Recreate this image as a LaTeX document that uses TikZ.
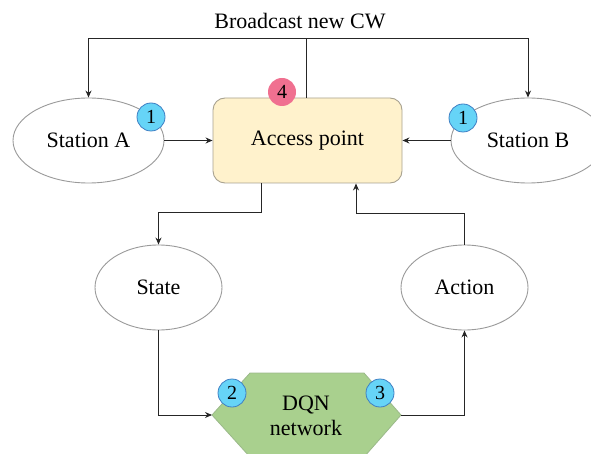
\documentclass[tikz,border=0pt]{standalone}
\usepackage{fontspec}
\setmainfont{Liberation Serif}
\usetikzlibrary{shapes.geometric,arrows.meta}
\definecolor{apfill}{HTML}{FFF2CC}
\definecolor{apdraw}{HTML}{A8A290}
\definecolor{hexfill}{HTML}{A9D08E}
\definecolor{hexdraw}{HTML}{9BB98A}
\definecolor{badgeblue}{HTML}{66D4F7}
\definecolor{badgeborder}{HTML}{3F7FC4}
\definecolor{badgepink}{HTML}{F07090}
\definecolor{ellgray}{HTML}{9A9A9A}
\tikzset{
  lbl/.style={font=\fontsize{22}{25}\selectfont},
  ell/.style={ellipse, draw=ellgray, line width=0.9pt, fill=white, inner sep=0pt, lbl},
  apbox/.style={rectangle, rounded corners=12pt, draw=apdraw, line width=0.9pt, fill=apfill, inner sep=0pt, minimum width=189pt, minimum height=85pt, lbl},
  badge/.style={circle, draw=badgeborder, line width=0.8pt, fill=badgeblue, minimum size=28pt, inner sep=0pt, font=\fontsize{20}{22}\selectfont},
  pbadge/.style={circle, fill=badgepink, minimum size=28pt, inner sep=0pt, font=\fontsize{20}{22}\selectfont},
  conn/.style={draw=black!85, line width=1pt},
  arr/.style={conn, -{Stealth[length=7pt,width=6pt]}},
}
\begin{document}
\begin{tikzpicture}[x=1pt,y=-1pt]
\useasboundingbox (0,0) rectangle (591,454);
\clip (0,0) rectangle (591,454);
% nodes
\node[apbox] (ap) at (307.5,140.5) {Access point};
\node[ell, minimum width=151pt, minimum height=85pt] (sa) at (88.5,140.5) {Station A};
\node[ell, minimum width=154pt, minimum height=85pt] (sb) at (528,140.5) {Station B};
\node[ell, minimum width=127pt, minimum height=85pt] (state) at (158.5,287.5) {State};
\node[ell, minimum width=127pt, minimum height=85pt] (action) at (464.5,287.5) {Action};
\node[lbl] (title) at (300,21) {Broadcast new CW};
% DQN hexagon
\coordinate (dqnL) at (212,415);
\coordinate (dqnR) at (401,415);
\fill[hexfill, draw=hexdraw, line width=0.8pt] (dqnL) -- (250,373) -- (364,373) -- (dqnR) -- (364,457) -- (250,457) -- cycle;
\node[lbl, align=center, inner sep=0pt] (dqn) at (306,416) {DQN\\[0pt]network};
% badges
\node[badge] (b1a) at (151,117) {1};
\node[badge] (b1b) at (463,118) {1};
\node[badge] (b2) at (232,393) {2};
\node[badge] (b3) at (380,393) {3};
\node[pbadge] (b4) at (282,92) {4};
% connectors
\coordinate (bc) at (306,39);
\draw[conn] (ap.north -| bc) -- (bc);
\draw[arr] (bc) -| (sa.north);
\draw[arr] (bc) -| (sb.north);
\draw[arr] (sa.east) -- (ap.west);
\draw[arr] (sb.west) -- (ap.east);
\coordinate (apout) at (261,213);
\draw[arr] (ap.south -| apout) -- (apout) -| (state.north);
\coordinate (apin) at (356,214);
\draw[arr] (action.north) |- (apin) -- (ap.south -| apin);
\draw[arr] (state.south) |- (dqnL);
\draw[arr] (dqnR) -| (action.south);
\end{tikzpicture}
\end{document}
